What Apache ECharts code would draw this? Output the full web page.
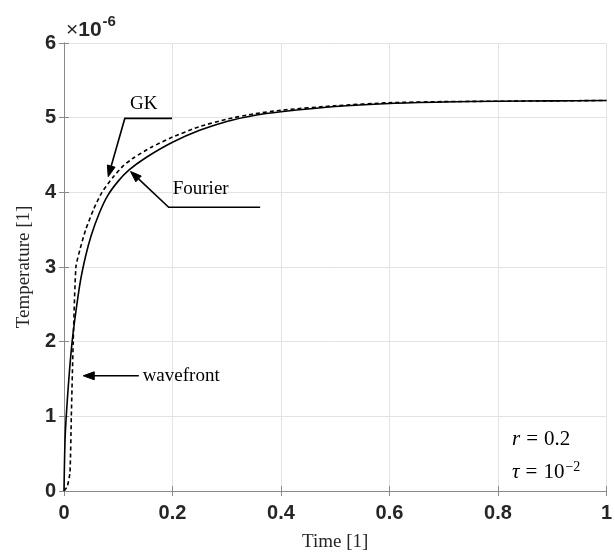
<!DOCTYPE html>
<html>
<head>
<meta charset="utf-8">
<script src="https://cdn.jsdelivr.net/npm/echarts@6/dist/echarts.min.js"></script>
<style>
  html, body { margin: 0; padding: 0; background: #fff; }
  #chart { width: 615px; height: 557px; }
</style>
</head>
<body>
<div id="chart"></div>
<script>
// Temperature response (units of 1e-6) versus dimensionless time
const fourierTime = [0, 0.002, 0.005, 0.01, 0.015, 0.02, 0.03, 0.04, 0.05, 0.065, 0.08, 0.1, 0.12, 0.15, 0.2, 0.25, 0.3, 0.35, 0.4, 0.5, 0.6, 0.7, 0.8, 0.9, 1.0];
const fourierTemp = [0, 0.7, 1.1, 1.6, 2.0, 2.3, 2.8, 3.15, 3.42, 3.72, 3.95, 4.15, 4.3, 4.46, 4.67, 4.83, 4.95, 5.03, 5.08, 5.15, 5.19, 5.21, 5.22, 5.225, 5.23];

const gkTime = [0, 0.006, 0.011, 0.0135, 0.017, 0.022, 0.03, 0.04, 0.055, 0.07, 0.09, 0.11, 0.13, 0.16, 0.2, 0.25, 0.3, 0.35, 0.4, 0.5, 0.6, 0.7, 0.8, 0.9, 1.0];
const gkTemp = [0, 0.06, 0.25, 1.0, 2.0, 3.0, 3.25, 3.5, 3.78, 4.0, 4.2, 4.36, 4.47, 4.6, 4.74, 4.88, 4.98, 5.05, 5.1, 5.16, 5.2, 5.215, 5.22, 5.225, 5.23];

const xTicks = ['0', '0.2', '0.4', '0.6', '0.8', '1'];
const yTicks = ['0', '1', '2', '3', '4', '5', '6'];

// Annotation callouts in data coordinates: polyline ending at the arrow tip
const gkCallout = [[0.1991, 4.99], [0.1121, 4.99], [0.0815, 4.21]];
const fourierCallout = [[0.3616, 3.80], [0.193, 3.80], [0.1226, 4.28]];
const wavefrontCallout = [[0.1379, 1.543], [0.0355, 1.543]];

const serif = '"Liberation Serif", "DejaVu Serif", serif';
const sans = '"Liberation Sans", Arial, sans-serif';

const chart = echarts.init(document.getElementById('chart'), null, { renderer: 'canvas' });

const pairs = (xs, ys) => xs.map((x, i) => [x, ys[i]]);

const gridColor = '#e3e3e3';
const boxColor = '#8a8a8a';
const tickColor = '#262626';

chart.setOption({
  animation: false,
  backgroundColor: '#ffffff',
  grid: { left: 64, right: 7, top: 43, bottom: 61, containLabel: false },
  xAxis: [{
    type: 'value', min: 0, max: 1, interval: 0.2,
    name: 'Time [1]', nameLocation: 'middle', nameGap: 42,
    nameTextStyle: { fontFamily: serif, fontSize: 19, color: '#262626' },
    axisLine: { show: true, lineStyle: { color: boxColor, width: 1 } },
    axisTick: { show: true, inside: true, length: 5, lineStyle: { color: boxColor } },
    axisLabel: {
      margin: 12, fontFamily: sans, fontWeight: 'bold', fontSize: 20, color: tickColor,
      formatter: (v) => xTicks[Math.round(v / 0.2)]
    },
    splitLine: { show: true, lineStyle: { color: gridColor, width: 1 } }
  }, {
    type: 'value', min: 0, max: 1, interval: 0.2, position: 'top',
    axisLine: { show: true, lineStyle: { color: boxColor, width: 1 } },
    axisTick: { show: true, inside: true, length: 5, lineStyle: { color: boxColor } },
    axisLabel: { show: false }, splitLine: { show: false }
  }],
  yAxis: [{
    type: 'value', min: 0, max: 6, interval: 1,
    name: 'Temperature [1]', nameLocation: 'middle', nameGap: 24, nameRotate: 90,
    nameTextStyle: { fontFamily: serif, fontSize: 19, color: '#262626' },
    axisLine: { show: true, lineStyle: { color: boxColor, width: 1 } },
    axisTick: { show: true, inside: true, length: 5, lineStyle: { color: boxColor } },
    axisLabel: {
      margin: 8, fontFamily: sans, fontWeight: 'bold', fontSize: 20, color: tickColor,
      formatter: (v) => yTicks[Math.round(v)]
    },
    splitLine: { show: true, lineStyle: { color: gridColor, width: 1 } }
  }, {
    type: 'value', min: 0, max: 6, interval: 1, position: 'right',
    axisLine: { show: true, lineStyle: { color: boxColor, width: 1 } },
    axisTick: { show: true, inside: true, length: 5, lineStyle: { color: boxColor } },
    axisLabel: { show: false }, splitLine: { show: false }
  }],
  series: [{
    name: 'Fourier', type: 'line', data: pairs(fourierTime, fourierTemp),
    smooth: 0.3, showSymbol: false, clip: true,
    lineStyle: { color: '#000', width: 1.6 }
  }, {
    name: 'GK', type: 'line', data: pairs(gkTime, gkTemp),
    smooth: 0.2, showSymbol: false, clip: true,
    lineStyle: { color: '#000', width: 1.6, type: [4, 3] }
  }]
});

// Callouts, labels and the axis multiplier are placed from data coordinates
function px(p) { return chart.convertToPixel({ xAxisIndex: 0, yAxisIndex: 0 }, p); }

function callout(points) {
  const pts = points.map(px);
  const n = pts.length;
  const tip = pts[n - 1], prev = pts[n - 2];
  const ang = Math.atan2(tip[1] - prev[1], tip[0] - prev[0]);
  const len = 11, half = 4;
  const bx = tip[0] - len * Math.cos(ang), by = tip[1] - len * Math.sin(ang);
  const nx = -Math.sin(ang) * half, ny = Math.cos(ang) * half;
  const shaft = pts.slice(0, n - 1).concat([[bx, by]]);
  return [{
    type: 'polyline', shape: { points: shaft },
    style: { stroke: '#000', lineWidth: 1.6, fill: null }
  }, {
    type: 'polygon', shape: { points: [tip, [bx + nx, by + ny], [bx - nx, by - ny]] },
    style: { fill: '#000', stroke: '#000', lineWidth: 1 }
  }];
}

function label(p, text, align, extra) {
  const q = px(p);
  return {
    type: 'text', x: q[0], y: q[1],
    style: Object.assign({
      text: text, fontFamily: serif, fontSize: 19, fill: '#000',
      align: align, verticalAlign: 'middle'
    }, extra || {})
  };
}

const mathRich = {
  i: { fontStyle: 'italic', fontFamily: serif, fontSize: 21 },
  n: { fontFamily: serif, fontSize: 21 },
  e: { fontFamily: serif, fontSize: 21, padding: [0, 6, 0, 6] },
  s: { fontFamily: serif, fontSize: 14, verticalAlign: 'top', padding: [0, 0, 10, 1] }
};

const plotCorner = px([0, 6]);
const elements = []
  .concat(callout(gkCallout))
  .concat(callout(fourierCallout))
  .concat(callout(wavefrontCallout))
  .concat([
    label([0.147, 5.18], 'GK', 'center'),
    label([0.2004, 4.04], 'Fourier', 'left'),
    label([0.145, 1.536], 'wavefront', 'left'),
    label([0.826, 0.689], '{i|r}{e|=}{n|0.2}', 'left', { rich: mathRich, fontSize: 21 }),
    label([0.826, 0.252], '{i|τ}{e|=}{n|10}{s|−2}', 'left', { rich: mathRich, fontSize: 21 }),
    {
      type: 'text', x: plotCorner[0] + 2, y: plotCorner[1] - 13,
      style: {
        text: '{x|×}{b|10}{s|-6}', verticalAlign: 'middle', fill: '#262626',
        rich: {
          x: { fontFamily: sans, fontSize: 21, fill: '#262626' },
          b: { fontFamily: sans, fontWeight: 'bold', fontSize: 21, fill: '#262626' },
          s: { fontFamily: sans, fontWeight: 'bold', fontSize: 15, fill: '#262626', padding: [0, 0, 16, 1] }
        }
      }
    }
  ]);

chart.setOption({ graphic: elements });
</script>
</body>
</html>
